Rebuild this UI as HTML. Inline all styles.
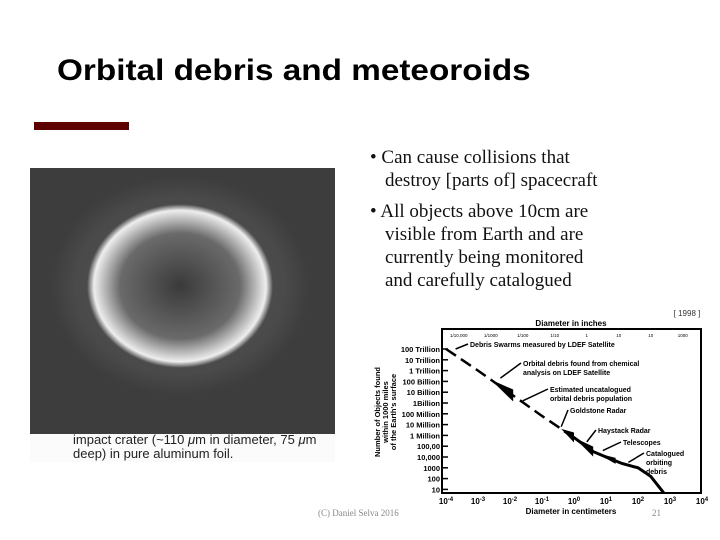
<!DOCTYPE html>
<html><head><meta charset="utf-8"><style>
body{margin:0;width:720px;height:540px;background:#fff;position:relative;overflow:hidden;font-family:"Liberation Sans",sans-serif}
.abs{position:absolute}
#title{left:57px;top:54px;font-size:30px;font-weight:bold;color:#000;white-space:nowrap;transform-origin:0 0;transform:scaleX(1.11)}
#bar{left:34px;top:122px;width:95px;height:8px;background:#5c0000}
#bullets{left:370px;top:146px;font-family:"Liberation Serif",serif;font-size:19px;line-height:23px;color:#111;margin:0;padding:0;list-style:none;width:330px;white-space:nowrap}
#bullets li{padding-left:15px;text-indent:-15px;margin-bottom:8px}
#photo{left:30px;top:168px;width:305px;height:266px;background:
radial-gradient(ellipse 100px 88px at 150px 118px,#3a3a3a 0%,#6a6a6a 60%,#cfcfcf 80%,#eee 86%,transparent 93%),
radial-gradient(ellipse 130px 110px at 150px 118px,#555 0%,#4a4a4a 80%,transparent 100%),
#3d3d3d}
#caption{left:30px;top:434px;width:305px;height:28px;background:#fbfbfb}
#caption div{position:absolute;left:43px;top:-1px;font-size:13px;line-height:14px;color:#222}
#footer{left:318px;top:508px;font-family:"Liberation Serif",serif;font-size:9px;color:#888}
#pnum{left:652px;top:508px;font-family:"Liberation Serif",serif;font-size:9px;color:#888}
</style></head><body>
<div id="title" class="abs">Orbital debris and meteoroids</div>
<div id="bar" class="abs"></div>
<ul id="bullets" class="abs">
<li>• Can cause collisions that<br>destroy [parts of] spacecraft</li>
<li>• All objects above 10cm are<br>visible from Earth and are<br>currently being monitored<br>and carefully catalogued</li>
</ul>
<div id="photo" class="abs"></div>
<div id="caption" class="abs"><div>impact crater (~110 <i>μ</i>m in diameter, 75 <i>μ</i>m<br>deep) in pure aluminum foil.</div></div>
<div id="footer" class="abs">(C) Daniel Selva 2016</div>
<div id="pnum" class="abs">21</div>
<svg id="chart" class="abs" style="left:0;top:0" width="720" height="540" font-family="Liberation Sans, sans-serif" font-weight="bold"></svg>
<script>
const logDiam=[-4,-3,-2,-1,-0.3,0,0.6,1,1.5,2,2.4,2.8];
const logCount=[14,12,9.9,7.8,6.4,5.8,4.5,4,3.4,3,2.2,0.7];
const yLabels=["100 Trillion","10 Trillion","1 Trillion","100 Billion","10 Billion","1Billion","100  Million","10  Million","1  Million","100,00","10,000","1000","100","10"];
const xExps=["-4","-3","-2","-1","0","1","2","3","4"];
const inchLabels=["1/10,000","1/1000","1/100","1/10","1","10","10","1000"];
const svg=document.getElementById('chart');
const NS='http://www.w3.org/2000/svg';
const X0=442,X1=701,Y0=329,Y1=493;
const xs=v=>446+(v+4)*32;
const ys=v=>349+(14-v)*10.8;
function el(t,a,txt){const e=document.createElementNS(NS,t);for(const k in a)e.setAttribute(k,a[k]);if(txt!==undefined)e.textContent=txt;svg.appendChild(e);return e;}
let r=el('rect',{x:X0,y:Y0,width:X1-X0,height:Y1-Y0,fill:'none',stroke:'#000','stroke-width':2});

let t=el('text',{x:571,y:326,'font-size':8,'text-anchor':'middle'},'Diameter in inches');

t=el('text',{x:571,y:514,'font-size':8,'text-anchor':'middle'},'Diameter in centimeters');

t=el('text',{x:687,y:316,'font-size':8,'font-weight':'normal','text-anchor':'middle',fill:'#333'},'[ 1998 ]');

const yt=el('text',{transform:'translate(380,412) rotate(-90)','font-size':7.5,'text-anchor':'middle'});

["Number of Objects found","within 1000 miles","of the Earth's surface"].forEach((s,i)=>{const ts=document.createElementNS(NS,'tspan');ts.setAttribute('x',0);ts.setAttribute('y',i*8);ts.textContent=s;yt.appendChild(ts);});
yLabels.forEach((s,i)=>{const y=ys(14-i);
 const l=el('line',{x1:X0,x2:X0+6,y1:y,y2:y,stroke:'#000','stroke-width':1.5});
 
 const tx=el('text',{x:X0-2,y:y+3,'font-size':7.5,'text-anchor':'end'},s);
 });
xExps.forEach((e,i)=>{const x=xs(+e);
 const tx=el('text',{x:x,y:504,'font-size':8,'text-anchor':'middle'});
 
 tx.appendChild(document.createTextNode('10'));const sp=document.createElementNS(NS,'tspan');sp.setAttribute('dy',-3);sp.setAttribute('font-size',6);sp.textContent=e;tx.appendChild(sp);});
inchLabels.forEach((s,i)=>{const tx=el('text',{x:xs(-3.6+i*1),y:337,'font-size':4.5,'font-weight':'normal','text-anchor':'middle'},s);
 });
let dashPts=[],solidPts=[];
logDiam.forEach((d,i)=>{const p=xs(d)+','+ys(logCount[i]);if(d<=-0.3)dashPts.push(p);if(d>=-0.3)solidPts.push(p);});
let pl=el('polyline',{points:dashPts.join(' '),fill:'none',stroke:'#000','stroke-width':2.5,'stroke-dasharray':'12,6'});

pl=el('polyline',{points:solidPts.join(' '),fill:'none',stroke:'#000','stroke-width':3});

const wedge=(d1,d2,w,name)=>{const a=[xs(d1),ys(interp(d1))],b=[xs(d2),ys(interp(d2))];
 const p=el('polygon',{points:`${a[0]},${a[1]} ${b[0]},${b[1]-w} ${b[0]},${b[1]+w}`,fill:'#000'});
 };
function interp(d){for(let i=0;i<logDiam.length-1;i++){if(d>=logDiam[i]&&d<=logDiam[i+1]){const f=(d-logDiam[i])/(logDiam[i+1]-logDiam[i]);return logCount[i]+f*(logCount[i+1]-logCount[i]);}}return logCount[logCount.length-1];}
wedge(-2.6,-1.9,6,'ldef-wedge');wedge(-0.4,0,5,'goldstone-wedge');wedge(0,0.6,5,'haystack-wedge');wedge(0.7,1.3,3,'telescope-wedge');
const ann=[["Debris Swarms measured by LDEF Satellite",470,347,[-3.7,14]],["Orbital debris found from chemical",523,366,[-2.3,11.3]],["analysis on LDEF Satellite",523,375,null],["Estimated uncatalogued",550,392,[-1.6,9.2]],["orbital debris population",550,401,null],["Goldstone Radar",570,413,[-0.4,6.8]],["Haystack Radar",598,433,[0.4,5.4]],["Telescopes",623,445,[0.9,4.6]],["Catalogued",646,456,[1.7,3.5]],["orbiting",646,465,null],["debris",646,474,null]];
ann.forEach(a=>{const tx=el('text',{x:a[1],y:a[2],'font-size':7},a[0]);
 
 if(a[3]){const l=el('line',{x1:a[1]-2,y1:a[2]-3,x2:xs(a[3][0]),y2:ys(a[3][1]),stroke:'#000','stroke-width':1.5});
 }});
</script>
</body></html>
